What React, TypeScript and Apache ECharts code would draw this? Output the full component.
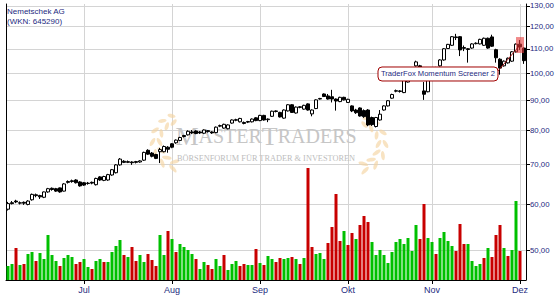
import React, { useEffect, useRef } from "react";
import * as echarts from "echarts";

// ---------- data ----------
const START_DATE = "2021-06-04";
const END_DATE = "2021-12-02";
const MONTHS_DE = ["Jan", "Feb", "Mär", "Apr", "Mai", "Jun", "Jul", "Aug", "Sep", "Okt", "Nov", "Dez"];

function buildTradingDays(start: string, end: string): string[] {
  const out: string[] = [];
  const d = new Date(start + "T00:00:00Z");
  const e = new Date(end + "T00:00:00Z");
  while (d <= e) {
    const wd = d.getUTCDay();
    if (wd !== 0 && wd !== 6) out.push(d.toISOString().slice(0, 10));
    d.setUTCDate(d.getUTCDate() + 1);
  }
  return out;
}
const categories = buildTradingDays(START_DATE, END_DATE);

const opens = [
  58.8, 60.3, 60.7, 60.2, 60.4, 59.9, 61.0, 62.2, 62.0, 61.6,
  62.9, 63.8, 63.7, 63.9, 63.1, 65.5, 65.7, 65.9, 65.4, 65.2,
  65.0, 65.3, 64.7, 66.7, 65.8, 65.9, 67.2, 67.8, 69.9, 70.9,
  70.6, 70.7, 70.8, 70.7, 71.2, 74.0, 73.2, 72.8, 73.6, 73.6,
  74.9, 75.9, 76.2, 76.9, 78.4, 78.6, 79.5, 79.8, 79.5, 79.1,
  79.9, 79.5, 79.3, 81.3, 80.7, 80.5, 82.3, 83.2, 82.7, 82.5,
  82.6, 82.7, 84.0, 83.1, 84.8, 83.4, 84.5, 86.3, 85.8, 83.9,
  86.3, 88.4, 85.6, 87.7, 86.9, 88.7, 85.3, 87.1, 90.4, 92.2,
  91.5, 91.2, 90.4, 89.5, 91.0, 89.2, 88.0, 86.6, 87.3, 86.4,
  86.6, 84.1, 81.2, 83.3, 86.6, 88.0, 90.7, 93.2, 93.1, 92.7,
  96.6, 98.2, 102.9, 102.9, 93.3, 93.0, 97.4, 102.1, 102.9, 105.3,
  110.1, 111.5, 115.2, 115.3, 110.5, 110.0, 110.3, 112.2, 112.1, 111.5,
  114.6, 115.2, 109.6, 105.6, 102.9, 104.1, 104.8, 108.7, 112.0, 110.3,
];
const closes = [
  60.1, 60.1, 60.5, 60.3, 60.2, 60.7, 62.3, 62.0, 61.7, 62.9,
  63.7, 63.5, 63.1, 62.9, 64.9, 65.3, 65.5, 65.2, 64.4, 64.6,
  65.1, 65.1, 66.3, 65.9, 66.8, 67.3, 68.6, 69.9, 71.5, 70.6,
  70.8, 70.5, 70.6, 71.0, 73.4, 72.9, 72.3, 71.7, 74.2, 75.1,
  74.3, 74.9, 77.0, 77.8, 78.1, 79.7, 79.2, 79.0, 79.2, 80.1,
  79.6, 79.2, 81.0, 81.5, 81.9, 81.7, 83.3, 83.4, 83.8, 82.2,
  82.8, 83.6, 83.1, 84.8, 83.3, 83.6, 86.2, 86.1, 84.3, 86.6,
  88.4, 85.8, 87.6, 87.5, 88.2, 86.6, 86.6, 90.1, 90.6, 91.3,
  90.4, 90.4, 89.7, 91.0, 90.1, 90.3, 86.3, 85.7, 84.6, 84.4,
  81.7, 81.8, 84.1, 85.2, 88.0, 89.8, 92.0, 93.4, 93.3, 97.4,
  98.9, 101.3, 104.5, 98.9, 92.1, 97.4, 101.3, 99.7, 105.3, 110.0,
  111.9, 115.3, 114.9, 109.5, 110.2, 109.7, 112.1, 112.4, 114.1, 114.6,
  110.3, 111.1, 106.2, 102.0, 104.8, 106.0, 108.7, 112.0, 110.8, 105.0,
];
const lows = [
  58.5, 59.9, 60.2, 59.9, 59.8, 59.7, 60.8, 61.6, 61.2, 61.4,
  62.7, 63.2, 62.9, 62.7, 63.0, 65.0, 65.2, 65.0, 64.2, 64.4,
  64.7, 64.8, 64.5, 65.7, 65.6, 65.7, 67.0, 67.6, 69.7, 70.4,
  70.4, 69.9, 70.3, 70.5, 71.0, 72.7, 72.0, 71.5, 70.4, 73.4,
  73.3, 74.6, 75.9, 76.7, 77.8, 78.4, 78.9, 78.8, 78.9, 78.9,
  79.3, 78.9, 79.1, 81.0, 80.5, 80.3, 82.1, 82.9, 82.5, 81.9,
  82.3, 82.5, 82.9, 82.9, 83.1, 82.6, 84.3, 85.8, 84.1, 83.7,
  86.1, 85.6, 85.4, 87.2, 86.7, 86.4, 84.5, 86.9, 90.2, 91.1,
  90.2, 89.2, 86.4, 89.3, 89.9, 89.0, 85.9, 85.3, 84.4, 84.0,
  81.3, 81.4, 80.9, 83.1, 86.4, 87.8, 90.5, 92.8, 92.7, 92.5,
  96.4, 98.0, 102.6, 98.5, 90.1, 92.8, 97.1, 99.4, 102.6, 105.0,
  109.9, 111.2, 113.8, 106.9, 109.0, 104.2, 110.0, 111.9, 111.9, 111.2,
  110.0, 110.8, 104.2, 99.4, 102.6, 103.8, 104.5, 108.4, 109.5, 103.7,
];
const highs = [
  60.5, 60.7, 61.0, 60.6, 60.6, 60.9, 62.5, 62.5, 62.2, 63.0,
  63.9, 64.0, 63.9, 64.0, 65.1, 65.8, 66.0, 66.1, 65.6, 65.4,
  65.4, 65.5, 66.5, 66.9, 67.0, 67.5, 68.8, 70.1, 71.8, 71.2,
  71.1, 70.9, 71.0, 71.2, 73.6, 74.3, 73.5, 73.0, 74.7, 75.4,
  75.2, 76.1, 77.2, 78.0, 78.6, 80.0, 80.1, 80.0, 79.8, 80.3,
  80.1, 79.7, 81.2, 81.8, 82.1, 81.9, 83.5, 83.7, 84.0, 82.8,
  83.0, 83.8, 84.2, 85.0, 85.0, 83.8, 86.4, 86.5, 86.0, 86.8,
  88.6, 88.6, 87.8, 87.9, 88.4, 88.9, 86.8, 90.3, 90.8, 92.4,
  92.2, 93.7, 90.6, 91.2, 91.2, 90.5, 88.2, 87.0, 87.5, 86.8,
  86.9, 84.4, 84.3, 86.6, 88.2, 90.0, 92.3, 93.8, 93.6, 97.7,
  99.5, 101.6, 105.0, 103.3, 96.6, 97.7, 101.6, 102.5, 105.6, 110.3,
  112.1, 115.6, 116.6, 115.6, 111.4, 110.3, 112.4, 112.8, 114.4, 114.9,
  114.9, 116.2, 110.0, 106.0, 105.1, 106.3, 109.0, 112.3, 113.8, 110.6,
];
// volume (thousand shares)
const volumes = [
  14, 16, 32, 15, 16, 26, 28, 19, 27, 21,
  45, 25, 19, 14, 22, 25, 23, 16, 18, 21,
  13, 11, 19, 21, 18, 18, 28, 34, 40, 25,
  23, 33, 19, 25, 18, 26, 20, 14, 45, 25,
  49, 41, 28, 36, 33, 30, 26, 21, 11, 18,
  15, 11, 21, 14, 25, 10, 16, 19, 14, 16,
  15, 15, 31, 17, 15, 24, 21, 18, 22, 21,
  22, 23, 21, 16, 22, 112, 33, 26, 27, 21,
  37, 53, 86, 39, 49, 35, 47, 41, 55, 64,
  58, 38, 25, 30, 25, 17, 28, 38, 41, 36,
  42, 29, 55, 41, 76, 42, 38, 26, 42, 48,
  39, 34, 29, 56, 36, 36, 19, 14, 16, 22,
  32, 23, 45, 55, 32, 24, 30, 79, 29, 0,
];
// G = up day (green), R = down day (red)
const volumeDirection = (
  "GGRGRGGRGG" + "GGGRGGGRRG" + "GRGGRGGGGR" + "GRRGGRRRGG" + "RGRGGGGRGG" +
  "RRGGRGGGRR" + "GGRGRGGRRG" + "GRGRGRRGGG" + "RRRRGRRGRR" + "RGGGGGGGGG" +
  "GGGRRGGRGG" + "GGRRRGGGGR" + "GRRRGRGGRR"
).split("");
const priceTicks = [50, 60, 70, 80, 90, 100, 110, 120, 130];
const TITLE_LINES = ["Nemetschek AG", "(WKN: 645290)"];
const ANNOTATION_TEXT = "TraderFox Momentum Screener 2";
const ANNOTATION_INDEX = 128;

// ---------- styling ----------
const NAVY = "#1c2a80";
const GRID_GRAY = "#d4d4d4";
const GREEN = "#00c000";
const RED = "#c80000";

const isMonthStart = (i: number) =>
  i > 0 && categories[i].slice(5, 7) !== categories[i - 1].slice(5, 7);

function laurel(cx: number, cy: number, r: number, mirror: boolean) {
  const els: any[] = [];
  const angles = [105, 130, 155, 180, 205, 230, 252];
  angles.forEach((deg, k) => {
    let th = (deg * Math.PI) / 180;
    if (mirror) th = Math.PI - th;
    [-1, 1].forEach((side) => {
      const rr = r + side * 3.5;
      const x = cx + rr * Math.cos(th);
      const y = cy + rr * Math.sin(th);
      const tang = mirror ? th - Math.PI / 2 : th + Math.PI / 2;
      const tilt = (mirror ? -1 : 1) * side * 0.55;
      els.push({
        type: "ellipse",
        x,
        y,
        rotation: -(tang + tilt),
        shape: { cx: 0, cy: 0, rx: 5 - k * 0.15, ry: 1.9 },
        style: { fill: "#f5d4a2", opacity: 0.65 },
        z: 1,
        silent: true,
      });
    });
  });
  return els;
}

export default function App() {
  const ref = useRef<HTMLDivElement>(null);
  useEffect(() => {
    const chart = echarts.init(ref.current!, null, { renderer: "svg" });
    const ohlc = categories.map((_, i) => [opens[i], closes[i], lows[i], highs[i]]);
    const volData = categories.map((_, i) => ({
      value: volumes[i],
      itemStyle: { color: volumeDirection[i] === "G" ? GREEN : RED },
    }));
    const option: any = {
      animation: false,
      backgroundColor: "#ffffff",
      grid: [
        { left: 6, right: 29, top: 4, bottom: 20, containLabel: false, outerBoundsMode: "none" },
        { left: 6, right: 29, top: 160, bottom: 20, containLabel: false, outerBoundsMode: "none" },
      ],
      xAxis: [
        {
          type: "category",
          gridIndex: 0,
          data: categories,
          boundaryGap: true,
          axisLine: { show: true, onZero: false, lineStyle: { color: "#000", width: 1 } },
          axisTick: {
            show: true,
            interval: (i: number) => isMonthStart(i),
            alignWithLabel: true,
            length: 4,
            lineStyle: { color: "#000" },
          },
          axisLabel: {
            interval: (i: number) => isMonthStart(i),
            formatter: (v: string) => MONTHS_DE[parseInt(v.slice(5, 7), 10) - 1],
            color: NAVY,
            fontSize: 9,
            fontFamily: "Liberation Sans",
            margin: 5,
          },
          splitLine: {
            show: true,
            interval: (i: number) => isMonthStart(i),
            alignWithLabel: true,
            lineStyle: { color: GRID_GRAY, width: 1 },
          },
        },
        {
          type: "category",
          gridIndex: 1,
          data: categories,
          boundaryGap: true,
          axisLine: { show: false },
          axisTick: { show: false },
          axisLabel: { show: false },
          splitLine: { show: false },
        },
      ],
      yAxis: [
        {
          type: "log",
          logBase: 10,
          gridIndex: 0,
          position: "right",
          min: 44.6,
          max: 131,
          axisLine: { show: true, lineStyle: { color: "#000", width: 1 } },
          axisTick: { show: true, length: 4, customValues: priceTicks, lineStyle: { color: "#000" } },
          axisLabel: {
            customValues: priceTicks,
            formatter: (v: number) => v.toFixed(2).replace(".", ","),
            color: NAVY,
            fontSize: 7.8,
            fontFamily: "Liberation Sans",
            margin: 4,
          },
          splitLine: { show: true, lineStyle: { color: GRID_GRAY, width: 1 } },
        },
        {
          type: "value",
          gridIndex: 0,
          position: "left",
          min: 0,
          max: 1,
          axisLine: { show: true, onZero: false, lineStyle: { color: "#000", width: 1 } },
          axisTick: { show: false },
          axisLabel: { show: false },
          splitLine: { show: false },
        },
        { type: "value", gridIndex: 1, min: 0, max: 120, show: false, splitLine: { show: false } },
      ],
      series: [
        {
          type: "bar",
          xAxisIndex: 1,
          yAxisIndex: 2,
          data: volData,
          barWidth: 3,
          z: 3,
        },
        {
          type: "candlestick",
          xAxisIndex: 0,
          yAxisIndex: 0,
          data: ohlc,
          barWidth: 3,
          z: 4,
          itemStyle: {
            color: "#ffffff",
            color0: "#000000",
            borderColor: "#000000",
            borderColor0: "#000000",
            borderWidth: 1,
          },
        },
      ],
    };
    chart.setOption(option);

    const top = chart.convertToPixel({ xAxisIndex: 0, yAxisIndex: 0 }, [ANNOTATION_INDEX, highs[ANNOTATION_INDEX]]) as number[];
    const bot = chart.convertToPixel({ xAxisIndex: 0, yAxisIndex: 0 }, [ANNOTATION_INDEX, lows[ANNOTATION_INDEX]]) as number[];
    const ax = top[0];
    const ay = (top[1] + bot[1]) / 2;
    const boxW = 120;
    const boxH = 14;
    const boxX = ax - 22 - boxW;
    const boxY = ay + 22;

    const graphics: any[] = [
      ...laurel(180, 142, 24, false),
      ...laurel(358, 144, 24, true),
      {
        type: "text",
        x: 266,
        y: 149,
        z: 1,
        silent: true,
        style: {
          text: "{a|M}{b|ASTER}{a|T}{b|RADERS}",
          textAlign: "center",
          textVerticalAlign: "bottom",
          fill: "#c6c6c6",
          rich: {
            a: { fontFamily: "Liberation Serif", fontSize: 26, fill: "#c6c6c6" },
            b: { fontFamily: "Liberation Serif", fontSize: 20, fill: "#c6c6c6" },
          },
        },
      },
      {
        type: "text",
        x: 266,
        y: 158,
        z: 1,
        silent: true,
        style: {
          text: "BÖRSENFORUM FÜR TRADER & INVESTOREN",
          textAlign: "center",
          textVerticalAlign: "middle",
          font: "8.3px Liberation Serif",
          fill: "#bdbdbd",
        },
      },
      {
        type: "text",
        x: 7,
        y: 6,
        z: 10,
        style: {
          text: TITLE_LINES.join("\n"),
          font: "8px Liberation Sans",
          lineHeight: 10,
          fill: NAVY,
        },
      },
      {
        type: "rect",
        z: 20,
        shape: { x: ax - 4, y: top[1] - 3, width: 8, height: bot[1] - top[1] + 6 },
        style: { fill: "rgba(232,60,60,0.6)" },
      },
      {
        type: "line",
        z: 20,
        shape: { x1: boxX + boxW, y1: boxY + 4, x2: ax, y2: ay },
        style: { stroke: "#a01818", lineWidth: 1 },
      },
      {
        type: "rect",
        z: 21,
        shape: { x: boxX, y: boxY, width: boxW, height: boxH, r: 4 },
        style: { fill: "#ffffff", stroke: "#a00000", lineWidth: 1 },
      },
      {
        type: "text",
        z: 22,
        x: boxX + boxW / 2,
        y: boxY + boxH / 2,
        style: {
          text: ANNOTATION_TEXT,
          textAlign: "center",
          textVerticalAlign: "middle",
          font: "7.6px Liberation Sans",
          fill: NAVY,
        },
      },
    ];
    chart.setOption({ graphic: graphics });
    return () => chart.dispose();
  }, []);
  return (
    <div
      ref={ref}
      style={{ position: "absolute", left: 0, top: 0, width: 555, height: 300, background: "#fff" }}
    />
  );
}
